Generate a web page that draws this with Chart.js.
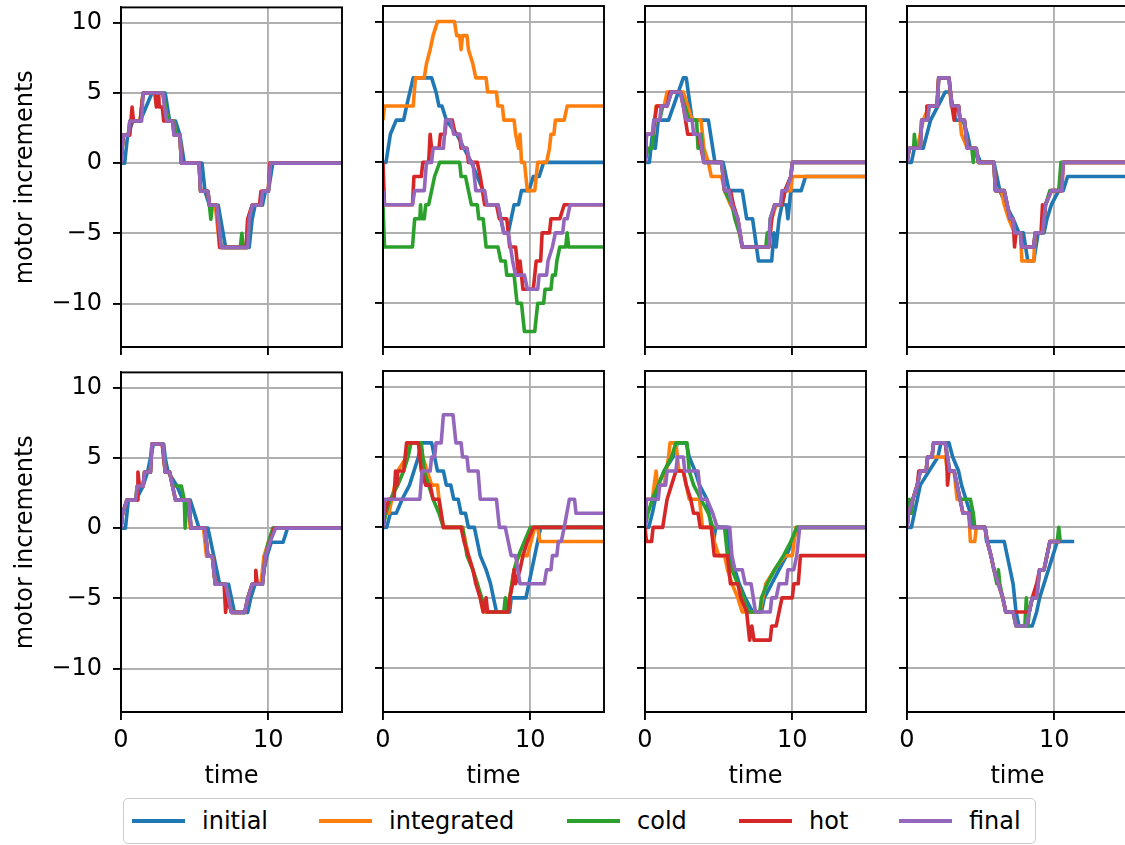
<!DOCTYPE html>
<html>
<head>
<meta charset="utf-8">
<script src="https://cdn.jsdelivr.net/npm/chart.js@4"></script>
<style>
  html, body { margin: 0; padding: 0; background: #fff; overflow: hidden; width: 1125px; height: 845px; }
  canvas { position: absolute; }
  #legend { position: absolute; left: 123px; top: 798px; width: 913px; height: 46px; border: 1.9px solid #cccccc;
            border-radius: 5px; box-sizing: border-box; font-family: 'DejaVu Sans'; font-size: 24px; color: #000; }
  .item { position: absolute; top: 0; height: 100%; display: flex; align-items: center; white-space: nowrap; }
  .swatch { width: 53px; height: 3.6px; margin-right: 17px; }
</style>
</head>
<body>
<div id="legend"></div>
<script>
// series names and tick values
const seriesNames = ['initial', 'integrated', 'cold', 'hot', 'final'];
const xTicks = [0, 10];
const yTicks = [-10, -5, 0, 5, 10];

// points are [time, motor increments]
// panel 1 (top left)
const p1Initial = [[0,0],[0.25,0],[0.45,2],[0.8,3],[1.3,3],[2.1,5],[3.0,5],[3.3,3],[3.7,3],[4.0,2],[4.3,0],[5.5,0],[5.7,-2],[6.0,-3],[6.6,-3],[7.1,-6],[8.7,-6],[8.9,-4],[9.1,-3],[9.6,-3],[9.8,-2],[10.0,-2],[10.3,0],[15,0]];
const p1Integrated = [[0,0],[0.15,2],[0.5,2],[0.6,3],[1.3,3],[1.5,5],[2.8,5],[3.0,4],[3.2,3],[3.6,3],[3.7,2],[4.0,2],[4.1,0],[5.3,0],[5.4,-2],[5.9,-2],[6.0,-3],[6.4,-3],[6.7,-6],[8.5,-6],[8.6,-4],[8.9,-3],[9.5,-3],[9.6,-2],[10.0,-2],[10.1,0],[15,0]];
const p1Cold = [[0,0],[0.15,2],[0.5,2],[0.6,3],[1.3,3],[1.5,5],[2.9,5],[3.0,4],[3.2,3],[3.6,3],[3.7,2],[4.0,2],[4.1,0],[5.3,0],[5.4,-2],[5.9,-2],[6.0,-3],[6.1,-4],[6.2,-3],[6.5,-3],[6.8,-6],[8.1,-6],[8.2,-5],[8.3,-6],[8.6,-6],[8.7,-4],[8.9,-3],[9.5,-3],[9.6,-2],[10.0,-2],[10.15,0],[15,0]];
const p1Hot = [[0,0],[0.15,2],[0.6,2],[0.75,4],[0.85,3],[1.3,3],[1.5,5],[2.3,5],[2.4,4],[2.55,5],[2.6,4],[2.8,4],[2.9,3],[3.5,3],[3.6,2],[4.0,2],[4.1,0],[5.3,0],[5.4,-2],[5.9,-2],[6.0,-3],[6.5,-3],[6.7,-6],[8.5,-6],[8.6,-4],[8.9,-3],[9.4,-3],[9.5,-2],[10.0,-2],[10.1,0],[15,0]];
const p1Final = [[0,0],[0.15,2],[0.5,2],[0.6,3],[1.4,3],[1.5,5],[2.85,5],[2.95,4],[3.1,3],[3.5,3],[3.6,2],[4.0,2],[4.1,0],[5.3,0],[5.4,-2],[5.9,-2],[6.0,-3],[6.5,-3],[6.8,-6],[8.6,-6],[8.7,-4],[8.9,-3],[9.5,-3],[9.6,-2],[10.0,-2],[10.15,0],[15,0]];

// panel 2
const p2Initial = [[0,0],[0.2,0],[0.5,2],[0.9,3],[1.4,3],[1.6,4],[2.05,6],[3.3,6],[3.6,5],[3.8,4],[4.0,4],[4.3,3],[5.0,2],[6.0,0],[6.8,-2],[7.0,-3],[7.8,-3],[8.0,-4],[8.2,-5],[8.5,-5],[8.9,-3],[9.2,-3],[9.4,-2],[9.9,-2],[10.2,-1],[10.6,-1],[10.9,0],[15,0]];
const p2Integrated = [[0,3],[0.1,4],[2.05,4],[2.2,6],[2.8,6],[2.95,7],[3.2,8],[3.4,9],[3.7,10],[4.85,10],[5.0,9],[5.2,9],[5.3,8],[5.4,9],[5.7,9],[5.8,8],[6.1,7],[6.3,6],[7.0,6],[7.1,5],[7.7,5],[7.8,4],[8.1,4],[8.2,3],[8.9,3],[9.0,2],[9.2,1],[9.3,2],[9.4,0],[9.6,0],[9.8,-2],[10.3,-2],[10.5,0],[11.1,0],[11.3,1],[11.4,2],[11.6,2],[11.7,3],[12.3,3],[12.5,4],[15,4]];
const p2Cold = [[0,-3],[0.1,-6],[2.0,-6],[2.15,-4],[2.5,-4],[2.55,-3],[2.6,-4],[2.8,-4],[2.9,-3],[3.1,-3],[3.3,-2],[3.5,-1],[3.85,0],[5.2,0],[5.3,-1],[5.6,-1],[5.8,-2],[6.0,-3],[6.4,-3],[6.5,-4],[6.8,-4],[7.0,-6],[7.8,-6],[8.0,-7],[8.3,-7],[8.4,-8],[8.9,-8],[9.1,-10],[9.4,-10],[9.6,-12],[10.3,-12],[10.5,-10],[10.9,-10],[11.0,-9],[11.4,-9],[11.5,-8],[11.7,-8],[11.8,-7],[12.0,-6],[12.4,-6],[12.5,-5],[12.6,-6],[15,-6]];
const p2Hot = [[0,0],[0.1,-3],[2.0,-3],[2.1,-1],[2.6,-1],[2.7,0],[3.1,0],[3.2,2],[3.3,1],[3.8,1],[3.9,2],[4.2,2],[4.3,3],[4.7,3],[4.9,2],[5.2,2],[5.3,1],[5.7,1],[5.8,0],[6.4,0],[6.6,-1],[6.9,-3],[7.7,-3],[7.9,-4],[8.4,-4],[8.6,-6],[9.0,-6],[9.2,-8],[9.3,-7],[9.5,-9],[10.2,-9],[10.4,-7],[10.7,-7],[10.8,-5],[11.3,-5],[11.4,-4],[12.0,-4],[12.3,-3],[15,-3]];
const p2Final = [[0,-2],[0.1,-3],[2.0,-3],[2.15,-2],[2.8,-2],[2.95,0],[3.3,0],[3.4,1],[4.1,1],[4.25,3],[4.6,3],[4.8,2],[5.2,2],[5.4,1],[5.7,1],[5.9,0],[6.1,0],[6.3,-2],[6.9,-2],[7.05,-3],[7.8,-3],[8.0,-4],[8.2,-5],[8.5,-5],[8.8,-7],[9.0,-8],[9.6,-8],[9.8,-9],[10.5,-9],[10.6,-8],[11.1,-8],[11.2,-7],[11.5,-6],[11.7,-5],[12.2,-5],[12.3,-4],[12.5,-4],[12.7,-3],[15,-3]];

// panel 3
const p3Initial = [[0,0],[0.3,0],[0.5,2],[0.7,1],[0.9,3],[1.6,3],[2.6,6],[2.8,6],[3.2,3],[4.3,3],[4.75,0],[5.3,0],[5.7,-2],[6.6,-2],[6.9,-4],[7.3,-4],[7.7,-7],[8.6,-7],[8.75,-5],[8.9,-6],[9.1,-4],[9.3,-3],[9.6,-3],[9.7,-4],[9.9,-2],[10.6,-2],[10.9,-1],[15,-1]];
const p3Integrated = [[0,0],[0.1,2],[0.6,2],[0.75,4],[1.3,4],[1.5,5],[2.6,5],[2.9,4],[3.2,3],[3.8,3],[4.0,1],[4.3,0],[4.5,-1],[5.2,-1],[5.4,-2],[5.8,-3],[6.3,-4],[6.6,-6],[8.4,-6],[8.6,-4],[8.9,-3],[9.3,-3],[9.5,-2],[9.9,-2],[10.0,-1],[15,-1]];
const p3Cold = [[0,0],[0.2,1],[0.5,1],[0.6,3],[1.0,3],[1.2,4],[1.5,4],[1.8,5],[2.4,5],[2.7,4],[3.0,3],[3.5,3],[3.6,1],[3.8,2],[4.0,0],[5.2,0],[5.4,-2],[5.9,-3],[6.1,-4],[6.4,-5],[6.6,-6],[8.2,-6],[8.3,-5],[8.4,-6],[8.5,-4],[8.8,-3],[9.3,-3],[9.5,-2],[9.9,-1],[10.0,0],[15,0]];
const p3Hot = [[0,0],[0.1,2],[0.5,2],[0.8,4],[1.5,4],[1.7,5],[2.4,5],[2.6,4],[2.9,2],[3.6,2],[4.0,0],[5.2,0],[5.4,-2],[5.8,-2],[6.0,-3],[6.3,-4],[6.6,-6],[8.4,-6],[8.6,-4],[8.8,-3],[9.3,-3],[9.5,-2],[9.9,-1],[10.0,0],[15,0]];
const p3Final = [[0,0],[0.1,2],[0.5,2],[0.6,3],[1.0,3],[1.1,4],[1.5,4],[1.8,5],[2.4,5],[2.6,4],[2.8,3],[3.2,3],[3.3,2],[3.7,2],[4.0,0],[5.2,0],[5.4,-2],[5.7,-2],[5.9,-3],[6.3,-4],[6.6,-6],[8.4,-6],[8.5,-4],[8.8,-3],[9.2,-3],[9.3,-2],[9.6,-2],[9.9,-1],[10.0,0],[15,0]];

// panel 4
const p4Initial = [[0,0],[0.3,0],[0.5,1],[1.1,1],[1.6,3],[2.6,5],[2.9,5],[3.3,3],[3.8,3],[4.1,2],[4.3,1],[4.6,1],[5.0,0],[5.9,0],[6.3,-2],[6.7,-3],[7.2,-4],[7.6,-5],[7.9,-5],[8.2,-7],[8.6,-7],[8.9,-5],[9.3,-5],[9.5,-4],[9.8,-3],[10.3,-2],[10.6,-2],[10.9,-1],[15,-1]];
const p4Integrated = [[0,0],[0.15,1],[0.7,1],[0.9,2],[1.1,3],[1.5,4],[2.0,4],[2.15,6],[2.85,6],[3.0,4],[3.5,4],[3.7,2],[4.1,1],[4.6,1],[4.85,0],[5.9,0],[6.0,-2],[6.4,-2],[6.6,-3],[6.9,-4],[7.3,-5],[7.7,-5],[7.8,-7],[8.6,-7],[8.7,-5],[9.2,-5],[9.4,-3],[9.8,-2],[10.5,-2],[10.6,0],[15,0]];
const p4Cold = [[0,0],[0.15,1],[0.45,1],[0.5,2],[0.6,1],[0.9,1],[1.0,3],[1.4,3],[1.5,4],[2.05,4],[2.15,6],[2.85,6],[3.05,4],[3.5,4],[3.6,3],[3.9,3],[4.1,1],[4.4,1],[4.5,0],[4.55,1],[4.7,1],[4.85,0],[5.9,0],[6.0,-2],[6.6,-2],[6.8,-3],[7.0,-4],[7.2,-4],[7.3,-5],[7.7,-5],[7.8,-6],[8.6,-6],[8.7,-5],[9.2,-5],[9.4,-3],[9.7,-2],[10.3,-2],[10.45,0],[15,0]];
const p4Hot = [[0,0],[0.15,1],[0.9,1],[1.0,3],[1.3,3],[1.35,4],[2.05,4],[2.15,6],[2.85,6],[3.05,4],[3.2,3],[3.3,4],[3.5,4],[3.6,3],[3.9,3],[4.1,1],[4.7,1],[4.85,0],[5.9,0],[6.0,-2],[6.6,-2],[6.8,-3],[7.0,-4],[7.2,-4],[7.3,-6],[7.4,-5],[7.7,-5],[7.8,-6],[8.6,-6],[8.7,-5],[9.1,-5],[9.2,-3],[9.3,-4],[9.4,-3],[9.8,-2],[10.5,-2],[10.6,0],[15,0]];
const p4Final = [[0,0],[0.15,1],[0.9,1],[1.0,3],[1.4,3],[1.5,4],[2.05,4],[2.15,6],[2.85,6],[3.05,4],[3.5,4],[3.6,3],[3.9,3],[4.1,1],[4.7,1],[4.85,0],[5.9,0],[6.0,-2],[6.6,-2],[6.8,-3],[7.0,-4],[7.2,-4],[7.3,-5],[7.7,-5],[7.8,-6],[8.6,-6],[8.7,-5],[9.2,-5],[9.4,-3],[9.8,-2],[10.5,-2],[10.6,0],[15,0]];

// panel 5 (bottom left)
const p5Initial = [[0,0],[0.3,0],[0.5,2],[1.0,2],[1.5,3],[1.8,4],[2.2,6],[2.9,6],[3.0,5],[3.2,4],[3.8,3],[4.2,2],[4.7,2],[5.0,1],[5.3,0],[5.9,0],[6.1,-1],[6.3,-2],[6.5,-3],[6.7,-4],[7.3,-4],[7.5,-5],[7.7,-6],[8.6,-6],[8.8,-5],[9.1,-4],[9.5,-4],[9.7,-3],[9.9,-2],[10.2,-1],[11.0,-1],[11.3,0],[15,0]];
const p5Integrated = [[0,0],[0.1,1],[0.4,2],[1.0,2],[1.1,3],[1.5,3],[1.6,4],[2.0,4],[2.1,6],[2.8,6],[3.0,4],[3.3,4],[3.5,3],[3.7,2],[4.5,2],[4.7,0],[5.6,0],[5.8,-2],[6.2,-2],[6.4,-4],[7.1,-4],[7.3,-5],[7.5,-6],[8.4,-6],[8.6,-5],[8.9,-4],[9.5,-4],[9.7,-2],[10.0,-1],[10.4,0],[15,0]];
const p5Cold = [[0,0],[0.1,1],[0.4,2],[1.0,2],[1.1,3],[1.5,3],[1.6,4],[2.0,4],[2.1,6],[2.85,6],[3.0,4],[3.3,4],[3.5,3],[4.1,3],[4.3,2],[4.35,0],[4.45,2],[4.6,2],[4.75,0],[5.7,0],[5.9,-2],[6.2,-2],[6.4,-4],[7.1,-4],[7.3,-5],[7.5,-6],[8.4,-6],[8.6,-5],[8.9,-4],[9.6,-4],[9.8,-2],[10.0,-1],[10.3,0],[15,0]];
const p5Hot = [[0,0],[0.1,1],[0.4,2],[1.1,2],[1.15,4],[1.25,3],[1.5,3],[1.6,4],[2.0,4],[2.1,6],[2.8,6],[3.0,4],[3.3,4],[3.5,3],[3.7,2],[4.6,2],[4.75,0],[5.7,0],[5.9,-2],[6.2,-2],[6.4,-4],[7.0,-4],[7.1,-6],[7.2,-5],[7.5,-6],[8.4,-6],[8.6,-5],[8.9,-4],[9.1,-4],[9.15,-3],[9.25,-4],[9.6,-4],[9.8,-2],[10.1,-1],[10.4,0],[15,0]];
const p5Final = [[0,0],[0.1,1],[0.4,2],[1.0,2],[1.1,3],[1.5,3],[1.6,4],[2.0,4],[2.1,6],[2.85,6],[3.0,4],[3.3,4],[3.5,3],[3.7,2],[4.6,2],[4.75,0],[5.7,0],[5.9,-2],[6.2,-2],[6.4,-4],[7.1,-4],[7.3,-5],[7.5,-6],[8.4,-6],[8.6,-5],[8.9,-4],[9.6,-4],[9.8,-2],[10.1,-1],[10.5,0],[15,0]];

// panel 6
const p6Initial = [[0,0],[0.25,0],[0.5,1],[0.9,1],[1.3,2],[1.8,3],[2.4,5],[2.6,6],[3.3,6],[3.5,5],[3.7,4],[4.1,4],[4.3,3],[4.6,3],[4.8,2],[5.1,2],[5.3,1],[5.6,1],[5.8,0],[6.2,0],[6.6,-2],[7.0,-3],[7.3,-4],[7.5,-5],[7.7,-6],[8.6,-6],[8.7,-5],[9.7,-5],[9.9,-4],[10.1,-3],[10.3,-2],[10.5,-1],[10.7,0],[15,0]];
const p6Integrated = [[0,0],[0.1,1],[0.4,1],[0.6,2],[0.8,3],[1.0,4],[1.6,5],[1.8,6],[2.5,6],[2.7,5],[3.0,4],[3.3,3],[3.7,3],[3.8,2],[4.1,0],[5.4,0],[5.8,-2],[6.1,-3],[6.4,-4],[6.6,-5],[6.8,-6],[8.5,-6],[8.6,-5],[8.9,-3],[9.2,-2],[9.8,-2],[10.3,0],[10.5,0],[10.65,-1],[15,-1]];
const p6Cold = [[0,0],[0.2,1],[0.5,2],[1.0,3],[1.4,4],[1.7,5],[1.9,6],[2.6,6],[2.8,4],[3.1,3],[3.4,2],[3.8,1],[4.1,0],[5.4,0],[5.7,-2],[6.1,-3],[6.4,-4],[6.7,-5],[7.0,-6],[8.2,-6],[8.3,-5],[8.4,-6],[8.6,-5],[8.9,-3],[9.2,-2],[9.6,-1],[10.0,0],[15,0]];
const p6Hot = [[0,0],[0.1,1],[0.4,2],[0.75,2],[0.85,4],[0.95,3],[1.0,4],[1.4,4],[1.6,6],[2.4,6],[2.6,4],[2.9,3],[3.2,3],[3.4,2],[3.8,2],[4.1,0],[5.3,0],[5.5,-1],[5.8,-2],[6.1,-3],[6.3,-4],[6.6,-5],[6.8,-6],[7.0,-5],[7.1,-6],[8.5,-6],[8.6,-5],[8.8,-4],[8.9,-3],[9.0,-4],[9.3,-3],[9.5,-2],[9.8,-1],[10.2,0],[15,0]];
const p6Final = [[0,0],[0.1,2],[2.5,2],[2.65,4],[3.2,4],[3.3,5],[3.5,5],[3.6,6],[3.95,6],[4.1,8],[4.75,8],[4.95,6],[5.3,6],[5.4,5],[5.7,5],[5.8,4],[6.45,4],[6.6,2],[7.7,2],[7.8,1],[7.9,0],[8.3,0],[8.5,-1],[8.7,-2],[9.0,-2],[9.3,-4],[10.95,-4],[11.1,-3],[11.4,-3],[11.5,-2],[11.8,-2],[11.9,-1],[12.1,-1],[12.3,0],[12.65,2],[13.0,2],[13.1,1],[15,1]];

// panel 7
const p7Initial = [[0,0],[0.25,0],[0.5,1],[0.9,3],[1.3,4],[1.9,5],[2.2,6],[2.8,6],[3.0,5],[3.4,4],[3.7,3],[4.2,2],[4.5,0],[4.65,-1],[4.8,0],[5.6,0],[5.8,-2],[6.1,-3],[6.4,-4],[6.8,-5],[7.3,-6],[7.9,-6],[8.1,-5],[8.6,-4],[9.1,-3],[9.6,-2],[10.0,-1],[10.4,0],[15,0]];
const p7Integrated = [[0,0],[0.1,2],[0.5,2],[0.75,4],[0.85,3],[1.3,3],[1.6,5],[1.7,6],[2.1,6],[2.3,4],[2.6,4],[2.8,3],[3.0,2],[3.7,2],[3.9,0],[4.5,0],[4.7,-1],[5.0,-2],[5.4,-2],[5.6,-3],[5.9,-4],[6.3,-5],[6.6,-6],[7.8,-6],[8.0,-5],[8.2,-4],[8.8,-3],[9.5,-2],[10.0,-2],[10.25,0],[15,0]];
const p7Cold = [[0,0],[0.2,1],[0.5,2],[0.9,3],[1.3,4],[1.8,5],[2.1,6],[2.85,6],[3.0,4],[3.3,3],[3.8,2],[4.3,1],[4.6,0],[5.4,0],[5.6,-2],[5.9,-3],[6.3,-4],[6.7,-5],[7.0,-6],[7.8,-6],[7.9,-5],[8.3,-4],[8.8,-3],[9.4,-2],[9.9,-1],[10.3,0],[15,0]];
const p7Hot = [[0,0],[0.1,-1],[0.45,-1],[0.55,0],[1.2,0],[1.35,1],[1.5,2],[1.8,3],[2.1,4],[2.6,4],[2.8,3],[3.1,2],[3.3,1],[3.6,1],[3.75,0],[4.5,0],[4.7,-2],[5.6,-2],[5.8,-4],[6.3,-4],[6.5,-5],[6.9,-6],[7.1,-8],[7.25,-7],[7.4,-8],[8.5,-8],[8.6,-7],[8.9,-7],[9.1,-6],[9.3,-5],[10.0,-5],[10.1,-4],[10.4,-4],[10.55,-2],[15,-2]];
const p7Final = [[0,0],[0.1,2],[0.9,2],[1.0,3],[1.4,3],[1.5,4],[2.1,4],[2.2,5],[2.6,5],[2.7,4],[3.6,4],[3.8,2],[4.2,2],[4.6,1],[4.9,0],[5.75,0],[5.9,-2],[6.1,-3],[6.6,-3],[6.8,-4],[7.2,-4],[7.5,-6],[8.5,-6],[8.6,-5],[8.9,-5],[9.1,-4],[9.6,-4],[9.7,-3],[10.1,-3],[10.3,-2],[10.5,0],[15,0]];

// panel 8
const p8Initial = [[0,0],[0.3,0],[0.5,1],[0.9,3],[1.5,4],[2.1,5],[2.3,6],[2.85,6],[3.1,5],[3.5,4],[3.7,3],[4.0,2],[4.3,1],[4.5,0],[5.3,0],[5.4,-1],[6.6,-1],[6.8,-2],[7.0,-3],[7.2,-4],[7.4,-6],[7.6,-7],[8.5,-7],[8.8,-6],[9.0,-5],[9.3,-4],[9.6,-3],[9.9,-2],[10.2,-1],[11.35,-1]];
const p8Integrated = [[0,0],[0.1,1],[0.4,2],[0.7,3],[0.9,4],[1.3,4],[1.4,5],[2.6,5],[2.75,4],[3.2,4],[3.3,3],[3.4,2],[3.6,2],[3.8,1],[4.2,1],[4.3,-1],[4.6,-1],[4.7,0],[5.3,0],[5.45,-1],[5.7,-2],[5.9,-3],[6.2,-4],[6.5,-5],[6.7,-6],[7.2,-6],[7.4,-7],[8.1,-7],[8.3,-6],[8.5,-5],[8.8,-5],[9.0,-3],[9.3,-3],[9.5,-2],[9.7,-1],[10.4,-1]];
const p8Cold = [[0,0],[0.1,1],[0.15,2],[0.3,1],[0.4,2],[0.7,3],[0.9,4],[1.3,4],[1.4,5],[1.7,5],[1.8,6],[2.6,6],[2.75,5],[2.9,4],[3.2,4],[3.4,3],[3.6,2],[4.3,2],[4.5,1],[4.6,0],[5.3,0],[5.45,-1],[5.7,-2],[5.9,-3],[6.1,-4],[6.2,-3],[6.3,-4],[6.5,-5],[6.7,-6],[7.2,-6],[7.4,-7],[8.0,-7],[8.1,-5],[8.2,-7],[8.3,-6],[8.5,-5],[8.8,-5],[9.0,-3],[9.3,-3],[9.5,-2],[9.7,-1],[10.2,-1],[10.3,0],[10.4,-1]];
const p8Hot = [[0,0],[0.1,1],[0.4,2],[0.7,3],[0.8,4],[1.3,4],[1.4,5],[1.7,5],[1.8,6],[2.6,6],[2.7,5],[2.75,3],[2.85,4],[3.2,4],[3.4,3],[3.6,2],[3.8,1],[4.2,1],[4.3,0],[5.3,0],[5.45,-1],[5.7,-2],[5.9,-3],[6.2,-4],[6.5,-5],[6.7,-6],[8.3,-6],[8.5,-5],[8.8,-4],[9.0,-3],[9.3,-3],[9.5,-2],[9.7,-1],[10.4,-1]];
const p8Final = [[0,0],[0.1,1],[0.4,2],[0.7,3],[0.9,4],[1.3,4],[1.4,5],[1.7,5],[1.8,6],[2.6,6],[2.75,5],[2.9,4],[3.2,4],[3.4,3],[3.6,2],[3.8,1],[4.2,1],[4.3,0],[5.3,0],[5.45,-1],[5.7,-2],[5.9,-3],[6.2,-4],[6.5,-5],[6.7,-6],[7.2,-6],[7.4,-7],[8.1,-7],[8.3,-6],[8.5,-5],[8.8,-5],[9.0,-3],[9.3,-3],[9.5,-2],[9.7,-1],[10.4,-1]];

const panels = [
  [p1Initial, p1Integrated, p1Cold, p1Hot, p1Final],
  [p2Initial, p2Integrated, p2Cold, p2Hot, p2Final],
  [p3Initial, p3Integrated, p3Cold, p3Hot, p3Final],
  [p4Initial, p4Integrated, p4Cold, p4Hot, p4Final],
  [p5Initial, p5Integrated, p5Cold, p5Hot, p5Final],
  [p6Initial, p6Integrated, p6Cold, p6Hot, p6Final],
  [p7Initial, p7Integrated, p7Cold, p7Hot, p7Final],
  [p8Initial, p8Integrated, p8Cold, p8Hot, p8Final]
];

const colors = ['#1f77b4', '#ff7f0e', '#2ca02c', '#d62728', '#9467bd'];

// layout of the 2x4 grid (plot area in page pixels)
const colLeft = [121, 383, 645, 907];
const rowTop = [6, 371];
const plotW = 221, plotH = 341;
const axisW = 110, axisH = 95, padTop = 24, padRight = 8;

Chart.defaults.font.family = 'DejaVu Sans';
Chart.defaults.font.size = 24;
Chart.defaults.color = '#000';

const minusFmt = v => v < 0 ? '\u2212' + Math.abs(v) : String(v);

// black box round each axes, like matplotlib spines
const framePlugin = {
  id: 'frame',
  afterDatasetsDraw(chart) {
    const { ctx, chartArea: a } = chart;
    ctx.save();
    ctx.strokeStyle = '#000';
    ctx.lineWidth = 1.9;
    ctx.strokeRect(a.left, a.top, a.right - a.left, a.bottom - a.top);
    ctx.restore();
  }
};

const gridOpts = () => ({ color: '#b0b0b0', lineWidth: 1.9, tickColor: '#000', tickWidth: 1.9, tickLength: 8 });

panels.forEach((series, idx) => {
  const row = Math.floor(idx / 4), col = idx % 4;
  const canvas = document.createElement('canvas');
  canvas.width = axisW + plotW + padRight;
  canvas.height = padTop + plotH + axisH;
  canvas.style.left = (colLeft[col] - axisW) + 'px';
  canvas.style.top = (rowTop[row] - padTop) + 'px';
  document.body.appendChild(canvas);

  new Chart(canvas, {
    type: 'line',
    data: {
      datasets: series.map((pts, i) => ({
        label: seriesNames[i],
        data: pts,
        borderColor: colors[i],
        borderWidth: 3.6,
        pointRadius: 0,
        tension: 0,
        borderJoinStyle: 'round',
        order: series.length - i
      }))
    },
    options: {
      responsive: false,
      animation: false,
      events: [],
      layout: { padding: { top: padTop, right: padRight, left: 0, bottom: 0 } },
      plugins: { legend: { display: false }, tooltip: { enabled: false } },
      scales: {
        x: {
          type: 'linear',
          min: 0,
          max: 15,
          afterBuildTicks: s => { s.ticks = xTicks.map(v => ({ value: v })); },
          afterFit: s => { s.height = axisH; },
          ticks: { display: row === 1, maxRotation: 0, padding: 6, callback: minusFmt },
          grid: gridOpts(),
          border: { color: '#000', width: 1.9 },
          title: { display: row === 1, text: 'time', padding: { top: 0, bottom: 16 } }
        },
        y: {
          type: 'linear',
          min: -13.1,
          max: 11.1,
          afterBuildTicks: s => { s.ticks = yTicks.map(v => ({ value: v })); },
          afterFit: s => { s.width = axisW; },
          ticks: { display: col === 0, padding: 11, callback: minusFmt },
          grid: gridOpts(),
          border: { color: '#000', width: 1.9 },
          title: { display: col === 0, text: 'motor increments', padding: { top: 0, bottom: 0 } }
        }
      }
    },
    plugins: [framePlugin]
  });
});

// legend along the bottom
const legendLeft = [8, 195, 443, 615, 775];
const legend = document.getElementById('legend');
seriesNames.forEach((name, i) => {
  const item = document.createElement('div');
  item.className = 'item';
  item.style.left = legendLeft[i] + 'px';
  const sw = document.createElement('div');
  sw.className = 'swatch';
  sw.style.background = colors[i];
  const label = document.createElement('span');
  label.textContent = name;
  item.appendChild(sw);
  item.appendChild(label);
  legend.appendChild(item);
});
</script>
</body>
</html>
